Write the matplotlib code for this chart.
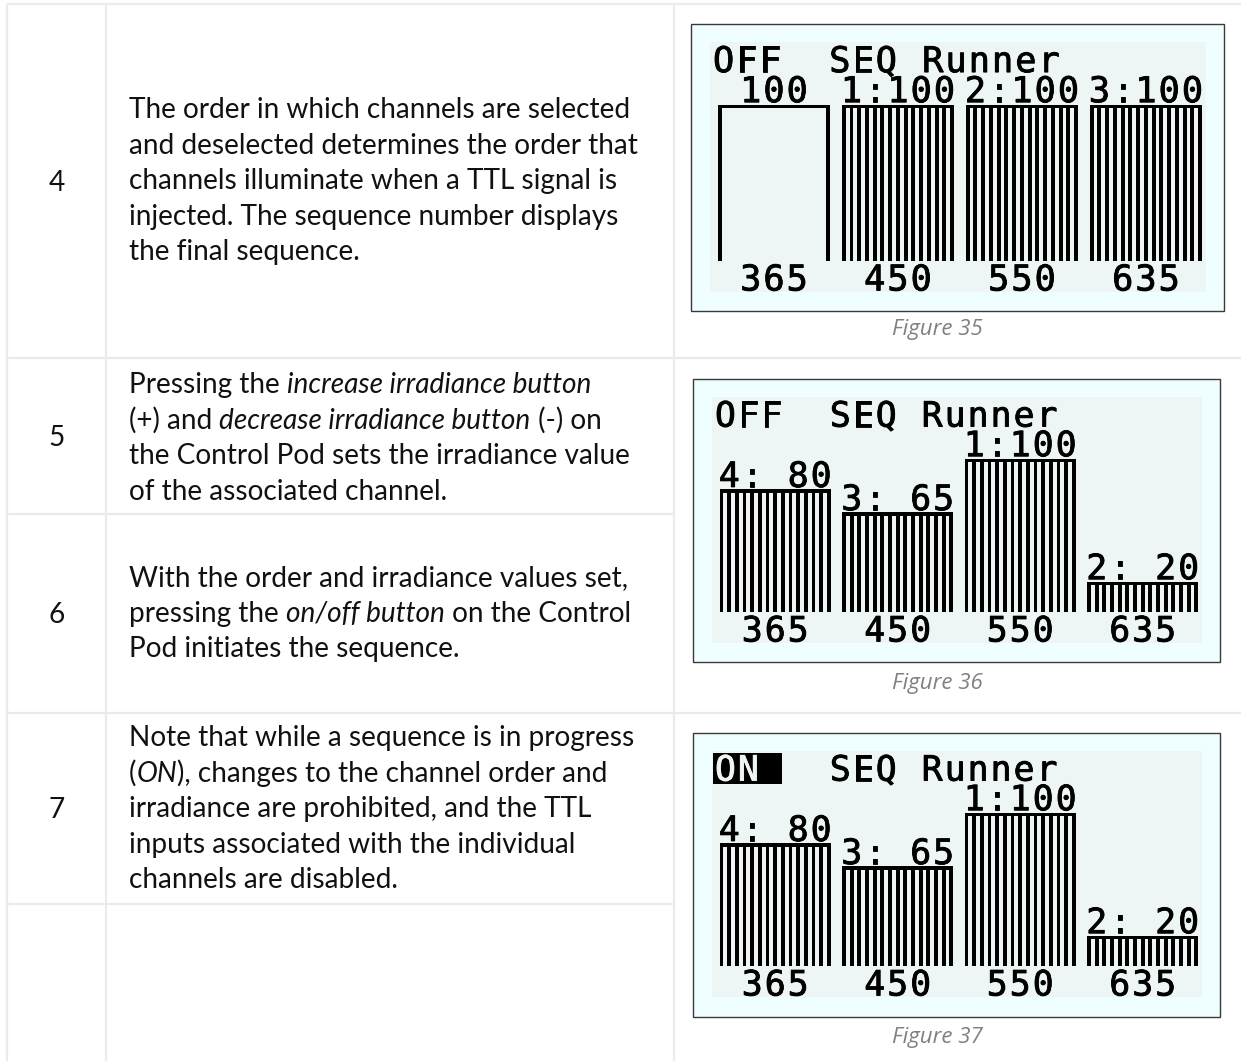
import matplotlib
matplotlib.use('Agg')
import matplotlib.pyplot as plt
import matplotlib.patheffects as pe
from matplotlib.patches import Rectangle

W, H = 1241, 1061

# ---- content ----
step_numbers = ['4', '5', '6', '7']
step_texts = [
    ["The order in which channels are selected",
     "and deselected determines the order that",
     "channels illuminate when a TTL signal is",
     "injected. The sequence number displays",
     "the final sequence."],
    ["Pressing the *increase irradiance button*",
     "(+) and *decrease irradiance button* (-) on",
     "the Control Pod sets the irradiance value",
     "of the associated channel."],
    ["With the order and irradiance values set,",
     "pressing the *on/off button* on the Control",
     "Pod initiates the sequence."],
    ["Note that while a sequence is in progress",
     "(*ON*), changes to the channel order and",
     "irradiance are prohibited, and the TTL",
     "inputs associated with the individual",
     "channels are disabled."],
]
figure_captions = ['Figure 35', 'Figure 36', 'Figure 37']

wavelengths = ['365', '450', '550', '635']
fig35_state = 'OFF'
fig35_values = [100, 100, 100, 100]
fig35_order = [None, 1, 2, 3]   # None = channel currently being edited
fig36_state = 'OFF'
fig36_values = [80, 65, 100, 20]
fig36_order = [4, 3, 1, 2]
fig37_state = 'ON'
fig37_values = [80, 65, 100, 20]
fig37_order = [4, 3, 1, 2]

# ---- layout ----
GRID = '#ebebeb'
BODY = dict(family='Lato', size=20.2, color='#111111')
LCD_BG = '#edf5f5'
BOX_BG = '#effefe'
MONO = 'DejaVu Sans Mono'

fig = plt.figure(figsize=(W / 100, H / 100), dpi=100)
bg = fig.add_axes([0, 0, 1, 1])
bg.set_xlim(0, W)
bg.set_ylim(H, 0)
bg.axis('off')

# table grid
for x in (7, 106, 674):
    bg.plot([x, x], [4, H], color=GRID, lw=1.6, solid_capstyle='butt')
for y, x_end in ((4, W), (358, W), (514, 674), (713, W), (904, 674)):
    bg.plot([7, x_end], [y, y], color=GRID, lw=1.6, solid_capstyle='butt')

renderer = fig.canvas.get_renderer()


def run_width(s, style):
    t1 = bg.text(0, 0, s + '|', style=style, **BODY)
    t2 = bg.text(0, 0, '|', style=style, **BODY)
    w = t1.get_window_extent(renderer).width - t2.get_window_extent(renderer).width
    t1.remove()
    t2.remove()
    return w


def draw_line(x, y, line):
    # text between * * is italic
    for i, part in enumerate(line.split('*')):
        if not part:
            continue
        style = 'italic' if i % 2 else 'normal'
        bg.text(x, y, part, style=style, va='baseline', ha='left', **BODY)
        x += run_width(part, style)


number_y = [183, 438, 615, 810]
first_line_y = [110, 385, 578, 738]
LINE_STEP = 35.6
for num, ny, fy, lines in zip(step_numbers, number_y, first_line_y, step_texts):
    bg.text(57, ny + 8, num, va='baseline', ha='center', **BODY)
    for i, line in enumerate(lines):
        draw_line(129, fy + 8 + i * LINE_STEP, line)

# ---- LCD screenshots ----
BAR_LEFT = 2
BAR_PITCH = 32
BAR_W = 29
BAR_BASE = 56
PX_PER_PCT = 0.4
CELL = 6          # lcd pixels per character cell (5 px glyph + 1 gap)


def lcd_text(ax, col, baseline, s, fs, color='black'):
    # place each character on the 6-pixel character grid of the display
    for i, ch in enumerate(s):
        if ch != ' ':
            ax.text(col + CELL * i + 2.5, baseline, ch, family=MONO, size=fs,
                    color=color, ha='center', va='baseline',
                    path_effects=[pe.withStroke(linewidth=0.6, foreground=color)])


def draw_lcd(box, lcd, caption_y, caption, state, values, order):
    x0, y0, x1, y1 = box
    bg.add_patch(Rectangle((x0, y0), x1 - x0, y1 - y0, fc=BOX_BG, ec='#3a3a3a', lw=1.0))
    lx0, ly0, lx1, ly1 = lcd
    ax = fig.add_axes([lx0 / W, 1 - ly1 / H, (lx1 - lx0) / W, (ly1 - ly0) / H])
    ax.set_xlim(0, 128)
    ax.set_ylim(64, 0)
    ax.axis('off')
    ax.add_patch(Rectangle((0, 0), 128, 64, fc=LCD_BG, ec='none'))

    px = (ly1 - ly0) / 64
    fs = 6.6 * px / 0.729 * 0.72   # glyph cap height of ~7 lcd pixels, in points

    # header
    if state == 'ON':
        ax.add_patch(Rectangle((0.2, 0.6), 18.2, 7.9, fc='black', ec='none'))
        lcd_text(ax, 1, 7.7, state, fs, color=LCD_BG)
    else:
        lcd_text(ax, 1, 7.7, state, fs)
    lcd_text(ax, 31, 7.7, 'SEQ Runner', fs)

    for k, (wl, v, o) in enumerate(zip(wavelengths, values, order)):
        left = BAR_LEFT + k * BAR_PITCH
        top = BAR_BASE - round(v * PX_PER_PCT)
        ax.bar(left, 1, width=BAR_W, bottom=top, align='edge', color='black', lw=0)
        if o is None:
            stripes = [left, left + BAR_W - 1]
            label = str(v)
        else:
            stripes = list(range(left, left + BAR_W, 2))
            label = f'{o}:{v:>3}'
        ax.bar(stripes, BAR_BASE - top - 1, width=1, bottom=top + 1, align='edge',
               color='black', lw=0)
        start = left + (BAR_W - (CELL * len(label) - 1)) / 2
        lcd_text(ax, start, top - 0.6, label, fs)
        start = left + (BAR_W - (CELL * len(wl) - 1)) / 2
        lcd_text(ax, start, 63.6, wl, fs)

    bg.text(937, caption_y, caption, family='Open Sans', style='italic', size=16,
            color='#808080', ha='center', va='center')


draw_lcd((691, 24, 1224, 311), (710, 42, 1206, 292), 330, figure_captions[0],
         fig35_state, fig35_values, fig35_order)
draw_lcd((693, 379, 1220, 662), (712, 397, 1202, 643), 683, figure_captions[1],
         fig36_state, fig36_values, fig36_order)
draw_lcd((693, 733, 1220, 1017), (712, 751, 1202, 997), 1038, figure_captions[2],
         fig37_state, fig37_values, fig37_order)

fig.savefig('out.png', dpi=100, facecolor='white')
